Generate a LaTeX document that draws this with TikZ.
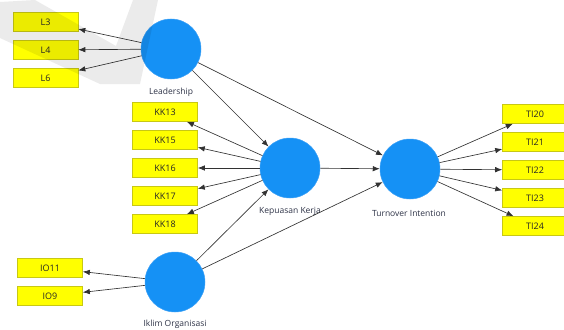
\documentclass[tikz,border=0pt]{standalone}
\usepackage{fontspec}
\setmainfont{Open Sans}
\usetikzlibrary{arrows.meta}
\definecolor{boxyellow}{RGB}{255,255,0}
\definecolor{boxborder}{RGB}{200,200,20}
\definecolor{lvblue}{RGB}{21,145,245}
\definecolor{lvborder}{RGB}{60,160,245}
\definecolor{edgegray}{RGB}{50,50,50}
\definecolor{labtext}{RGB}{45,50,70}
\begin{document}
\begin{tikzpicture}[x=1pt,y=-1pt,
  ind/.style={draw=boxborder, fill=boxyellow, line width=0.6pt, minimum width=65pt, minimum height=19pt, inner sep=0pt, font=\fontsize{9}{10}\selectfont, text=black!85},
  lv/.style={circle, fill=lvblue, draw=lvborder, line width=0.5pt, minimum size=60pt, inner sep=0pt},
  lab/.style={font=\fontsize{8.5}{10}\selectfont, text=labtext, inner sep=0pt},
  arr/.style={draw=edgegray, line width=0.65pt, -{Latex[length=7pt,width=5.5pt]}}
]
\useasboundingbox (0,0) rectangle (564,329);
% indicators
\node[ind] (L3) at (45.5,22) {L3};
\node[ind] (L4) at (45.5,50) {L4};
\node[ind] (L6) at (45.5,78) {L6};
\node[ind] (KK13) at (165,112) {KK13};
\node[ind] (KK15) at (165,140) {KK15};
\node[ind] (KK16) at (165,168) {KK16};
\node[ind] (KK17) at (165,196) {KK17};
\node[ind] (KK18) at (165,224) {KK18};
\node[ind] (TI20) at (535,114) {TI20};
\node[ind] (TI21) at (535,142) {TI21};
\node[ind] (TI22) at (535,170) {TI22};
\node[ind] (TI23) at (535,198) {TI23};
\node[ind] (TI24) at (535,226) {TI24};
\node[ind] (IO11) at (50,268) {IO11};
\node[ind] (IO9) at (50,296) {IO9};
% latent variables
\node[lv] (LD) at (171,49) {};
\node[lv] (KK) at (290,168) {};
\node[lv] (TI) at (410,169) {};
\node[lv] (IO) at (175,282) {};
% labels
\node[lab] (LDlab) at (171,92) {Leadership};
\node[lab] (KKlab) at (290,211) {Kepuasan Kerja};
\node[lab] (TIlab) at (409,213) {Turnover Intention};
\node[lab] (IOlab) at (175,324) {Iklim Organisasi};
% outer loadings
\foreach \t in {L3,L4,L6} \draw[arr] (LD) -- (\t);
\foreach \t in {KK13,KK15,KK16,KK17,KK18} \draw[arr] (KK) -- (\t);
\foreach \t in {TI20,TI21,TI22,TI23,TI24} \draw[arr] (TI) -- (\t);
\foreach \t in {IO11,IO9} \draw[arr] (IO) -- (\t);
% structural paths
\draw[arr] (LD) -- (KK);
\draw[arr] (LD) -- (TI);
\draw[arr] (KK) -- (TI);
\draw[arr] (IO) -- (KK);
\draw[arr] (IO) -- (TI);
% watermark
\fill[black, fill opacity=0.08] (0,2) -- (0,38) -- (100,84) -- (140,84) -- (158,0) -- (133,0) -- (116,46) -- (35,0) -- cycle;
\end{tikzpicture}
\end{document}
